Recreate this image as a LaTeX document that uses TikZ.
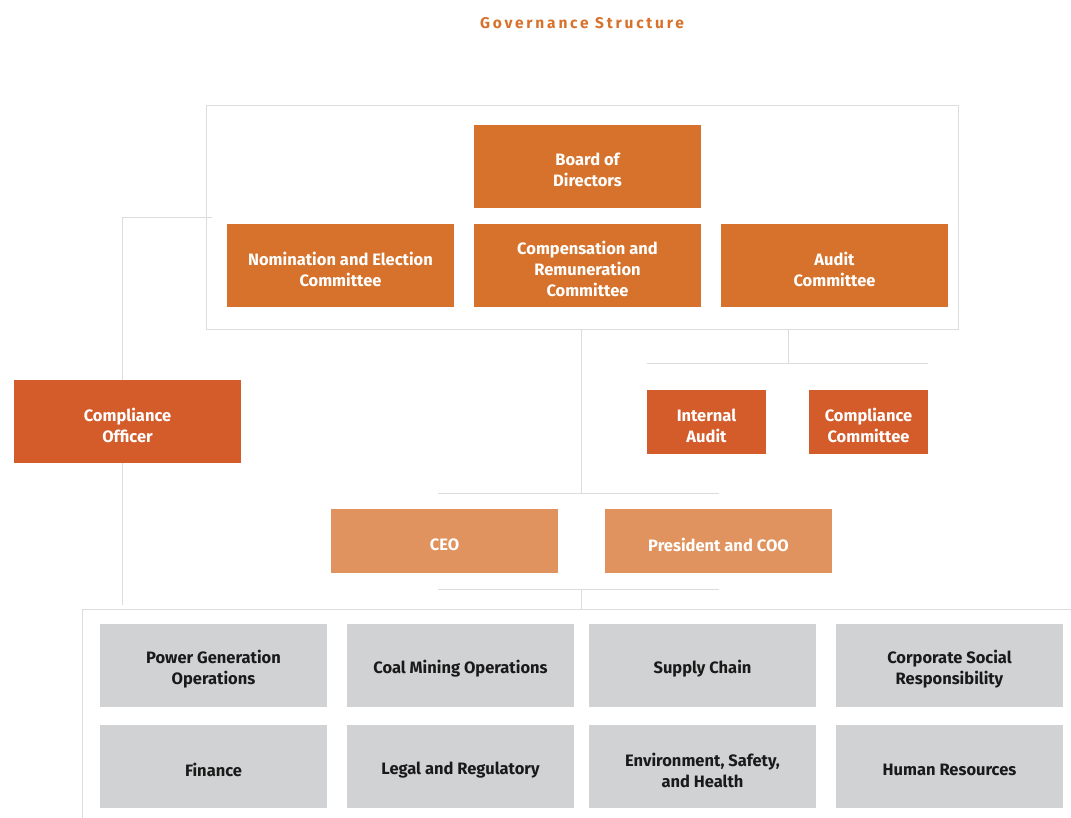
\documentclass[tikz,border=0pt]{standalone}
\usepackage{fontspec}
\setmainfont{Fira Sans}
\newfontfamily\titlefont[LetterSpace=18]{Fira Sans}
\usetikzlibrary{positioning,backgrounds}

\definecolor{boardorange}{HTML}{D6722B}
\definecolor{redorange}{HTML}{D45B2A}
\definecolor{lightorange}{HTML}{E0935E}
\definecolor{panelgray}{HTML}{D1D2D4}
\definecolor{linegray}{HTML}{DCDCDC}
\definecolor{inkblack}{HTML}{1A1A1A}

\tikzset{
  unitbox/.style={minimum width=227pt, minimum height=83pt, inner sep=0pt},
  boxtext/.style={inner sep=0pt, align=center, yshift=-3.5pt,
    font=\fontsize{16.5}{21}\selectfont\bfseries},
  boardbox/.style={unitbox, fill=boardorange, label={[boxtext, text=white]center:#1}},
  controlbox/.style={unitbox, fill=redorange, label={[boxtext, text=white]center:#1}},
  smallbox/.style={controlbox={#1}, minimum width=119pt, minimum height=64pt},
  execbox/.style={unitbox, fill=lightorange, minimum height=64pt, label={[boxtext, text=white]center:#1}},
  deptbox/.style={unitbox, fill=panelgray, label={[boxtext, text=inkblack]center:#1}},
  linkline/.style={draw=linegray, line width=1pt},
}

\begin{document}
\begin{tikzpicture}[x=1pt,y=-1pt]
    \useasboundingbox (0,0) rectangle (1071,818);
    % title:
    \node[text=boardorange, font=\titlefont\fontsize{15.5}{18}\selectfont\bfseries] (title) at (582,23) {Governance Structure};
    % board and committees:
    \node[boardbox={Board of\\Directors}] (board) at (587.5,166.5) {};
    \node[boardbox={Nomination and Election\\Committee}] (nomination) at (340.5,265.5) {};
    \node[boardbox={Compensation and\\Remuneration\\Committee}] (compensation) at (587.5,265.5) {};
    \node[boardbox={Audit\\Committee}] (audit) at (834.5,265.5) {};
    % control functions:
    \node[controlbox={Compliance\\Officer}] (officer) at (127.5,421.5) {};
    \node[smallbox={Internal\\Audit}] (internal) at (706.5,422) {};
    \node[smallbox={Compliance\\Committee}] (compcommittee) at (868.5,422) {};
    % executives:
    \node[execbox={CEO}] (ceo) at (444.5,541) {};
    \node[execbox={President and COO}] (president) at (718.5,541) {};
    % departments:
    \node[deptbox={Power Generation\\Operations}] (power) at (213.5,665.5) {};
    \node[deptbox={Coal Mining Operations}] (coal) at (460.5,665.5) {};
    \node[deptbox={Supply Chain}] (supply) at (702.5,665.5) {};
    \node[deptbox={Corporate Social\\Responsibility}] (csr) at (949.5,665.5) {};
    \node[deptbox={Finance}] (finance) at (213.5,766.5) {};
    \node[deptbox={Legal and Regulatory}] (legal) at (460.5,766.5) {};
    \node[deptbox={{Environment, Safety,\\and Health}}] (ehs) at (702.5,766.5) {};
    \node[deptbox={Human Resources}] (hr) at (949.5,766.5) {};
    % frames and links:
    \coordinate (boardNW) at (206,106);
    \coordinate (boardSE) at (958,330);
    \coordinate (deptNW) at (82,609);
    \begin{scope}[on background layer]
        \draw[linkline] (boardNW) rectangle (boardSE);
        \draw[linkline] (1080,609) -- (deptNW) -- (82,830);
        % to compliance officer:
        \draw[linkline] (212,218) -| (122,605);
        % audit committee to its units:
        \draw[linkline] (788,330) -- (788,363);
        \draw[linkline] (internal.north west |- 0,363) -- (compcommittee.north east |- 0,363);
        % board to executives:
        \draw[linkline] (581,330) -- (581,493);
        \draw[linkline] (438,493) -- (719,493);
        \draw[linkline] (438,589) -- (719,589);
        \draw[linkline] (581,589) -- (581,609);
    \end{scope}
\end{tikzpicture}
\end{document}
